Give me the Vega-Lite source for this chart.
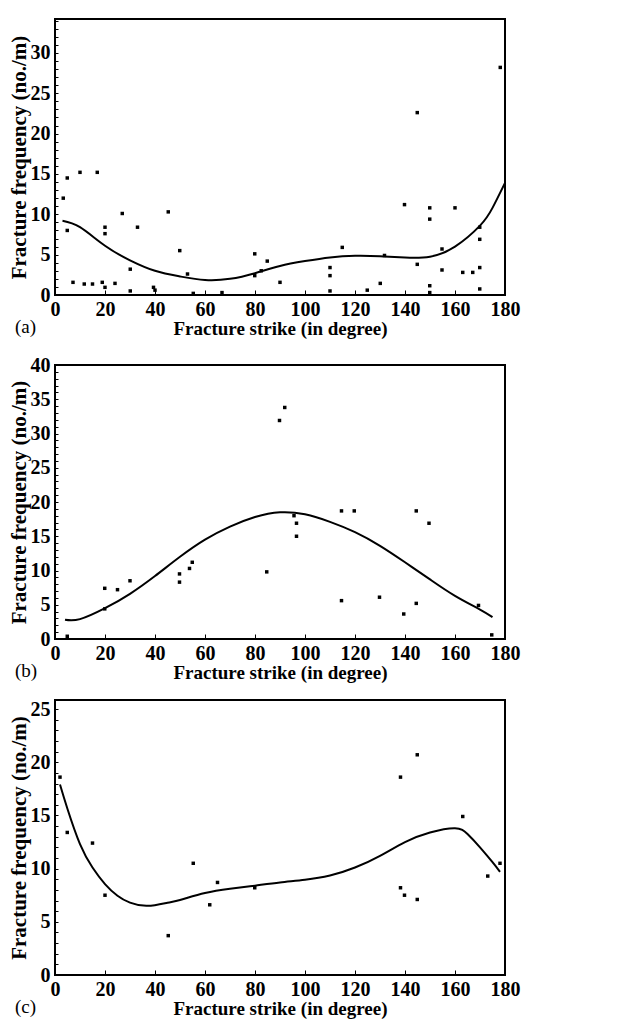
{
  "$schema": "https://vega.github.io/schema/vega-lite/v6.json",
  "background": "white",
  "padding": {"left": 6, "top": 9, "right": 5, "bottom": 2},
  "spacing": 15,
  "config": {
    "font": "Liberation Serif, Times New Roman, serif",
    "view": {"stroke": "black", "strokeWidth": 2},
    "axis": {
      "domain": false,
      "grid": false,
      "ticks": true,
      "tickColor": "black",
      "tickWidth": 1,
      "labelFlush": false,
      "labelOverlap": false,
      "labelFont": "Liberation Serif, Times New Roman, serif",
      "labelFontSize": 20,
      "labelFontWeight": "bold",
      "labelColor": "black",
      "titleFont": "Liberation Serif, Times New Roman, serif",
      "titleFontWeight": "bold",
      "titleColor": "black"
    },
    "title": {"font": "Liberation Serif, Times New Roman, serif", "fontSize": 19, "fontWeight": "normal", "color": "black"}
  },
  "datasets": {
    "a_pts": [
      {"strike": 3.3, "freq": 12.0}, {"strike": 4.9, "freq": 14.5}, {"strike": 4.9, "freq": 8.0},
      {"strike": 7.2, "freq": 1.57}, {"strike": 10, "freq": 15.2}, {"strike": 11.7, "freq": 1.36},
      {"strike": 15, "freq": 1.36}, {"strike": 16.9, "freq": 15.2}, {"strike": 18.9, "freq": 1.57},
      {"strike": 20, "freq": 8.4}, {"strike": 20, "freq": 7.6}, {"strike": 20, "freq": 0.95},
      {"strike": 24, "freq": 1.44}, {"strike": 26.9, "freq": 10.1}, {"strike": 30.1, "freq": 3.2},
      {"strike": 30.1, "freq": 0.5}, {"strike": 33, "freq": 8.4}, {"strike": 39.4, "freq": 0.95},
      {"strike": 40, "freq": 0.6}, {"strike": 45.3, "freq": 10.3}, {"strike": 49.9, "freq": 5.5},
      {"strike": 53, "freq": 2.6}, {"strike": 55.3, "freq": 0.2}, {"strike": 66.8, "freq": 0.3},
      {"strike": 79.9, "freq": 5.1}, {"strike": 79.9, "freq": 2.4}, {"strike": 82.5, "freq": 3.0},
      {"strike": 84.9, "freq": 4.2}, {"strike": 90, "freq": 1.57}, {"strike": 110, "freq": 3.4},
      {"strike": 110, "freq": 2.4}, {"strike": 110, "freq": 0.5}, {"strike": 114.9, "freq": 5.9},
      {"strike": 124.9, "freq": 0.6}, {"strike": 130.1, "freq": 1.44}, {"strike": 131.8, "freq": 4.9},
      {"strike": 139.8, "freq": 11.2}, {"strike": 144.9, "freq": 22.6}, {"strike": 144.9, "freq": 3.8},
      {"strike": 149.9, "freq": 10.8}, {"strike": 149.9, "freq": 9.4}, {"strike": 149.9, "freq": 1.15},
      {"strike": 149.9, "freq": 0.3}, {"strike": 154.8, "freq": 5.7}, {"strike": 154.8, "freq": 3.1},
      {"strike": 160, "freq": 10.8}, {"strike": 163.1, "freq": 2.8}, {"strike": 167.1, "freq": 2.8},
      {"strike": 169.9, "freq": 3.4}, {"strike": 169.9, "freq": 6.9}, {"strike": 169.9, "freq": 8.4},
      {"strike": 169.9, "freq": 0.75}, {"strike": 178.1, "freq": 28.2}
    ],
    "a_fit": [
      {"strike": 3, "freq": 9.2}, {"strike": 10, "freq": 8.4}, {"strike": 20, "freq": 6.1},
      {"strike": 30, "freq": 4.3}, {"strike": 40, "freq": 3.0}, {"strike": 50, "freq": 2.3},
      {"strike": 60, "freq": 1.85}, {"strike": 70, "freq": 2.0}, {"strike": 80, "freq": 2.7},
      {"strike": 90, "freq": 3.6}, {"strike": 100, "freq": 4.2}, {"strike": 110, "freq": 4.65},
      {"strike": 120, "freq": 4.85}, {"strike": 130, "freq": 4.8}, {"strike": 140, "freq": 4.65},
      {"strike": 150, "freq": 4.75}, {"strike": 160, "freq": 6.0}, {"strike": 170, "freq": 8.6},
      {"strike": 175, "freq": 10.8}, {"strike": 180, "freq": 13.9}
    ],
    "b_pts": [
      {"strike": 4.9, "freq": 0.4}, {"strike": 19.9, "freq": 7.4}, {"strike": 19.9, "freq": 4.4},
      {"strike": 25, "freq": 7.2}, {"strike": 30, "freq": 8.5}, {"strike": 49.8, "freq": 9.5},
      {"strike": 49.8, "freq": 8.3}, {"strike": 53.8, "freq": 10.3}, {"strike": 54.9, "freq": 11.2},
      {"strike": 84.7, "freq": 9.8}, {"strike": 89.8, "freq": 31.9}, {"strike": 91.9, "freq": 33.8},
      {"strike": 95.6, "freq": 18.0}, {"strike": 96.6, "freq": 16.9}, {"strike": 96.6, "freq": 15.0},
      {"strike": 114.6, "freq": 18.7}, {"strike": 114.6, "freq": 5.6}, {"strike": 119.7, "freq": 18.7},
      {"strike": 129.8, "freq": 6.1}, {"strike": 139.5, "freq": 3.65}, {"strike": 144.5, "freq": 18.7},
      {"strike": 144.5, "freq": 5.2}, {"strike": 149.6, "freq": 16.9}, {"strike": 169.4, "freq": 4.9},
      {"strike": 174.7, "freq": 0.6}
    ],
    "b_fit": [
      {"strike": 4, "freq": 2.8}, {"strike": 10, "freq": 2.9}, {"strike": 20, "freq": 4.5},
      {"strike": 30, "freq": 6.6}, {"strike": 40, "freq": 9.2}, {"strike": 50, "freq": 12.0},
      {"strike": 60, "freq": 14.5}, {"strike": 70, "freq": 16.4}, {"strike": 80, "freq": 17.8},
      {"strike": 90, "freq": 18.5}, {"strike": 100, "freq": 18.2},
      {"strike": 110, "freq": 17.1}, {"strike": 120, "freq": 15.6}, {"strike": 130, "freq": 13.6},
      {"strike": 140, "freq": 11.2}, {"strike": 150, "freq": 8.7}, {"strike": 160, "freq": 6.3},
      {"strike": 170, "freq": 4.3}, {"strike": 175, "freq": 3.2}
    ],
    "c_pts": [
      {"strike": 2, "freq": 18.6}, {"strike": 4.9, "freq": 13.4}, {"strike": 15, "freq": 12.4},
      {"strike": 20, "freq": 7.5}, {"strike": 45.3, "freq": 3.7}, {"strike": 55.3, "freq": 10.5},
      {"strike": 61.9, "freq": 6.6}, {"strike": 65, "freq": 8.7}, {"strike": 79.9, "freq": 8.2},
      {"strike": 138.2, "freq": 18.6}, {"strike": 138.2, "freq": 8.2}, {"strike": 139.8, "freq": 7.5},
      {"strike": 144.9, "freq": 20.7}, {"strike": 144.9, "freq": 7.1}, {"strike": 163.1, "freq": 14.9},
      {"strike": 173.1, "freq": 9.3}, {"strike": 178, "freq": 10.5}
    ],
    "c_fit": [
      {"strike": 2, "freq": 17.9}, {"strike": 5, "freq": 15.6}, {"strike": 10, "freq": 12.3},
      {"strike": 15, "freq": 10.1}, {"strike": 20, "freq": 8.55}, {"strike": 25, "freq": 7.45},
      {"strike": 30, "freq": 6.8}, {"strike": 37, "freq": 6.5}, {"strike": 45, "freq": 6.8},
      {"strike": 50, "freq": 7.05}, {"strike": 60, "freq": 7.7}, {"strike": 70, "freq": 8.1},
      {"strike": 80, "freq": 8.4}, {"strike": 90, "freq": 8.7}, {"strike": 100, "freq": 8.95},
      {"strike": 110, "freq": 9.35}, {"strike": 120, "freq": 10.1}, {"strike": 130, "freq": 11.2},
      {"strike": 140, "freq": 12.5}, {"strike": 150, "freq": 13.4}, {"strike": 160, "freq": 13.8},
      {"strike": 165, "freq": 13.25}, {"strike": 170, "freq": 12.0}, {"strike": 175, "freq": 10.6},
      {"strike": 178, "freq": 9.7}
    ]
  },
  "vconcat": [
    {
      "width": 450, "height": 276,
      "title": {"text": "(a)", "orient": "bottom", "anchor": "start", "frame": "group", "dx": -40, "offset": -20},
      "encoding": {
        "x": {"field": "strike", "type": "quantitative", "scale": {"domain": [0, 180], "nice": false},
              "axis": {"values": [0,20,40,60,80,100,120,140,160,180], "title": "Fracture strike (in degree)", "titleFontSize": 19, "titlePadding": 0, "tickSize": -5, "labelPadding": 9}},
        "y": {"field": "freq", "type": "quantitative", "scale": {"domain": [0, 34.2], "nice": false},
              "axis": {"values": [0,1,2,3,4,5,6,7,8,9,10,11,12,13,14,15,16,17,18,19,20,21,22,23,24,25,26,27,28,29,30,31,32,33,34], "labelExpr": "datum.value % 5 === 0 ? datum.label : ''", "title": "Fracture frequency (no./m)", "titleFontSize": 21, "titlePadding": 1, "tickSize": -3, "labelPadding": 8}}
      },
      "layer": [
        {"data": {"name": "a_pts"}, "mark": {"type": "square", "size": 12, "color": "black", "opacity": 1}},
        {"data": {"name": "a_fit"}, "mark": {"type": "line", "color": "black", "strokeWidth": 2, "interpolate": "natural"}}
      ]
    },
    {
      "width": 450, "height": 274,
      "title": {"text": "(b)", "orient": "bottom", "anchor": "start", "frame": "group", "dx": -40, "offset": -20},
      "encoding": {
        "x": {"field": "strike", "type": "quantitative", "scale": {"domain": [0, 180], "nice": false},
              "axis": {"values": [0,20,40,60,80,100,120,140,160,180], "title": "Fracture strike (in degree)", "titleFontSize": 19, "titlePadding": 0, "tickSize": -5, "labelPadding": 9}},
        "y": {"field": "freq", "type": "quantitative", "scale": {"domain": [0, 40], "nice": false},
              "axis": {"values": [0,1,2,3,4,5,6,7,8,9,10,11,12,13,14,15,16,17,18,19,20,21,22,23,24,25,26,27,28,29,30,31,32,33,34,35,36,37,38,39,40], "labelExpr": "datum.value % 5 === 0 ? datum.label : ''", "title": "Fracture frequency (no./m)", "titleFontSize": 21, "titlePadding": 1, "tickSize": -3, "labelPadding": 8}}
      },
      "layer": [
        {"data": {"name": "b_pts"}, "mark": {"type": "square", "size": 12, "color": "black", "opacity": 1}},
        {"data": {"name": "b_fit"}, "mark": {"type": "line", "color": "black", "strokeWidth": 2, "interpolate": "natural"}}
      ]
    },
    {
      "width": 450, "height": 275,
      "title": {"text": "(c)", "orient": "bottom", "anchor": "start", "frame": "group", "dx": -40, "offset": -20},
      "encoding": {
        "x": {"field": "strike", "type": "quantitative", "scale": {"domain": [0, 180], "nice": false},
              "axis": {"values": [0,20,40,60,80,100,120,140,160,180], "title": "Fracture strike (in degree)", "titleFontSize": 19, "titlePadding": 0, "tickSize": -5, "labelPadding": 9}},
        "y": {"field": "freq", "type": "quantitative", "scale": {"domain": [0, 25.85], "nice": false},
              "axis": {"values": [0,1,2,3,4,5,6,7,8,9,10,11,12,13,14,15,16,17,18,19,20,21,22,23,24,25], "labelExpr": "datum.value % 5 === 0 ? datum.label : ''", "title": "Fracture frequency (no./m)", "titleFontSize": 21, "titlePadding": 1, "tickSize": -3, "labelPadding": 8}}
      },
      "layer": [
        {"data": {"name": "c_pts"}, "mark": {"type": "square", "size": 12, "color": "black", "opacity": 1}},
        {"data": {"name": "c_fit"}, "mark": {"type": "line", "color": "black", "strokeWidth": 2, "interpolate": "natural"}}
      ]
    }
  ]
}
